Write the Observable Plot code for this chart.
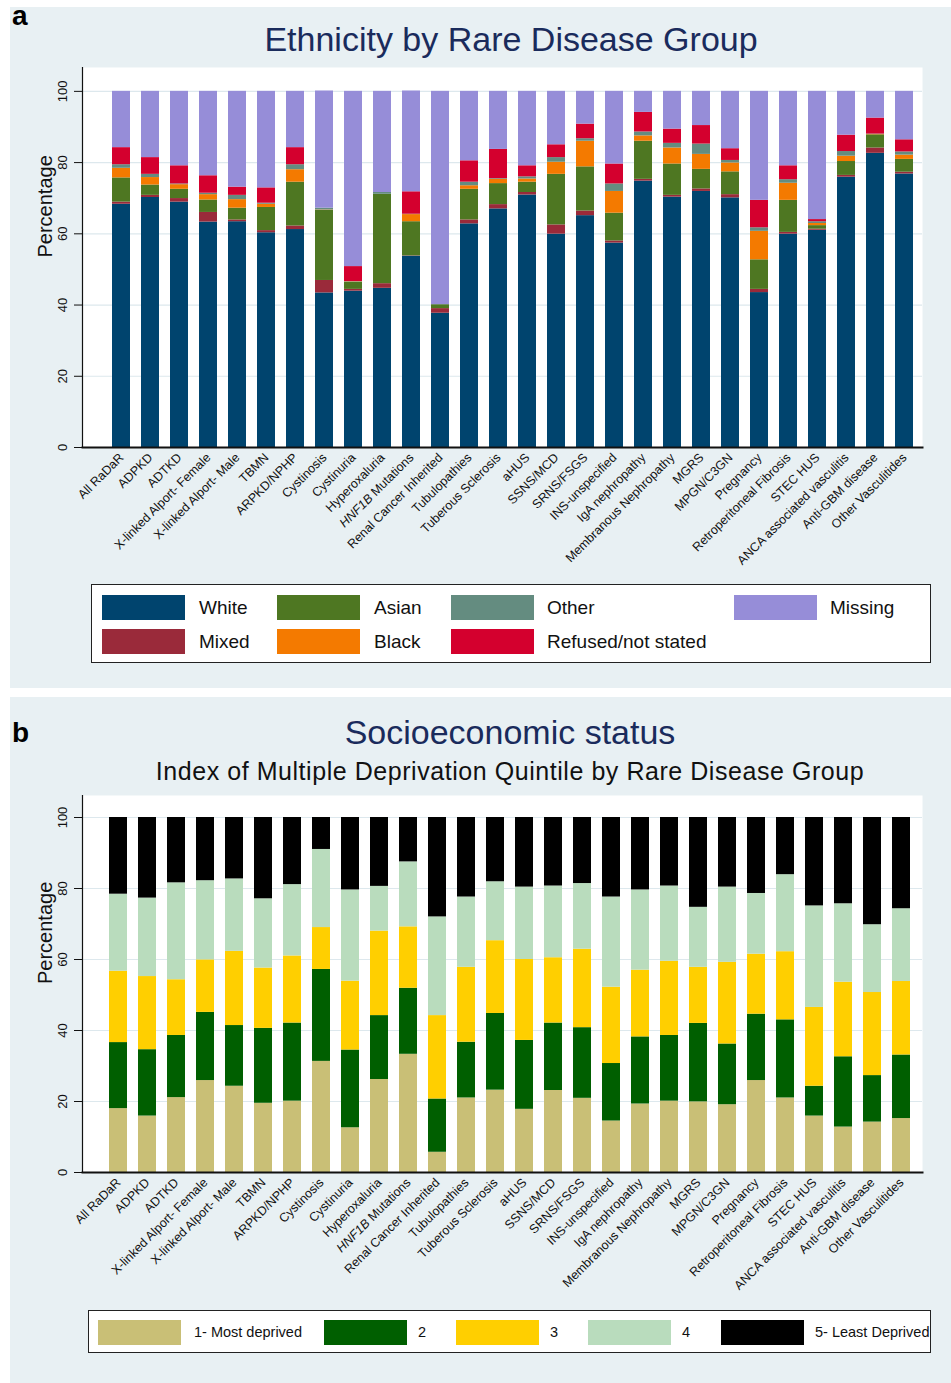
<!DOCTYPE html>
<html>
<head>
<meta charset="utf-8">
<script src="https://cdn.jsdelivr.net/npm/d3@7"></script>
<script src="https://cdn.jsdelivr.net/npm/@observablehq/plot@0.6"></script>
<style>
  html, body { margin: 0; padding: 0; background: #ffffff; }
  body { width: 951px; height: 1383px; position: relative; overflow: hidden; font-family: "Liberation Sans", Arial, sans-serif; }
  .panel { position: absolute; background: #e8f0f3; }
  .abs { position: absolute; white-space: nowrap; }
  .letter { font-weight: bold; font-size: 28px; color: #000; }
  .title { font-size: 34px; color: #1a2b5c; transform: translateX(-50%); }
  .subtitle { font-size: 25px; letter-spacing: 0.55px; color: #111; transform: translateX(-50%); }
  .legend { position: absolute; background: #fff; border: 1.5px solid #222; box-sizing: border-box; }
  .sw { position: absolute; }
  .lt { position: absolute; color: #111; white-space: nowrap; }
  .plotwrap { position: absolute; left: 0; }
</style>
</head>
<body>
<div class="panel" style="left:10px;top:7px;width:941px;height:681px;"></div>
<div class="panel" style="left:10px;top:697px;width:941px;height:686px;"></div>

<div class="abs letter" style="left:12px;top:0px;">a</div>
<div class="abs title" style="left:511px;top:20px;">Ethnicity by Rare Disease Group</div>
<div id="plotA" class="plotwrap" style="top:67px;"></div>
<div id="legendA" class="legend" style="left:91px;top:584px;width:840px;height:79px;"></div>

<div class="abs letter" style="left:12px;top:717px;">b</div>
<div class="abs title" style="left:510px;top:713px;">Socioeconomic status</div>
<div class="abs subtitle" style="left:510px;top:757px;">Index of Multiple Deprivation Quintile by Rare Disease Group</div>
<div id="plotB" class="plotwrap" style="top:795px;"></div>
<div id="legendB" class="legend" style="left:88px;top:1310px;width:843px;height:43px;"></div>

<script>
// ---------- categories ----------
const categories = ["All RaDaR","ADPKD","ADTKD","X-linked Alport- Female","X-linked Alport- Male","TBMN","ARPKD/NPHP","Cystinosis","Cystinuria","Hyperoxaluria","HNF1B Mutations","Renal Cancer Inherited","Tubulopathies","Tuberous Sclerosis","aHUS","SSNS/MCD","SRNS/FSGS","INS-unspecified","IgA nephropathy","Membranous Nephropathy","MGRS","MPGN/C3GN","Pregnancy","Retroperitoneal Fibrosis","STEC HUS","ANCA associated vasculitis","Anti-GBM disease","Other Vasculitides"];

// ---------- panel a: ethnicity (%) ----------
const ethnicGroups = ["White","Mixed","Asian","Black","Other","Refused/not stated","Missing"];
const white   = [68.3,70.2,68.9,63.3,63.4,60.3,61.2,43.4,43.9,44.7,53.7,37.7,62.8,67.0,70.9,59.9,65.1,57.4,74.8,70.3,71.9,70.1,43.5,59.9,61.0,75.9,82.6,76.8];
const mixed   = [0.6,0.6,1.0,2.7,0.5,0.6,1.0,3.5,0.5,1.3,0.1,1.3,1.1,1.2,0.7,2.6,1.3,0.6,0.5,0.5,0.7,0.9,0.9,0.5,0.3,0.5,1.5,0.5];
const asian   = [6.8,2.9,2.6,3.5,3.3,6.5,12.3,19.7,2.0,25.1,9.6,1.1,8.6,5.9,2.9,14.2,12.4,7.8,10.7,8.8,5.5,6.4,8.3,9.0,1.0,3.9,3.7,3.6];
const black   = [2.7,2.1,1.3,1.5,2.4,0.9,3.5,0.1,0.1,0.0,2.0,0.0,1.0,1.2,0.9,3.4,7.2,6.1,1.5,4.5,4.2,2.5,8.0,4.8,0.6,1.5,0.1,1.2];
const other   = [1.0,0.9,0.2,0.4,1.2,0.3,1.4,0.5,0.1,0.5,0.1,0.0,1.0,0.2,0.6,1.3,0.7,2.1,1.1,1.3,2.9,0.7,1.0,1.0,0.5,1.3,0.1,0.9];
const refused = [4.8,4.7,5.1,4.9,2.3,4.3,4.8,0.0,4.2,0.0,6.3,0.0,6.0,8.2,3.1,3.6,4.1,5.6,5.5,4.0,5.2,3.3,7.7,3.9,0.6,4.6,4.5,3.4];
const missing = [15.8,18.6,20.9,23.7,26.9,27.1,15.8,32.9,49.2,28.4,28.3,59.9,19.5,16.3,20.9,15.0,9.2,20.4,5.9,10.6,9.6,16.1,30.6,20.9,36.0,12.3,7.5,13.6];
const ethnicColors = ["#00446e","#9a2a3a","#4e7722","#f47a00","#648c80","#d4002e","#968dd8"];

// ---------- panel b: IMD quintile (%) ----------
const quintiles = ["1- Most deprived","2","3","4","5- Least Deprived"];
const q1 = [18.0,15.9,21.1,25.9,24.3,19.5,20.1,31.3,12.6,26.2,33.3,5.7,21.0,23.2,17.8,23.1,20.9,14.5,19.3,20.1,19.9,19.1,25.9,21.0,15.9,12.8,14.2,15.2];
const q2 = [18.6,18.7,17.5,19.2,17.1,21.1,22.0,25.9,21.9,18.0,18.6,15.0,15.7,21.6,19.4,19.0,19.9,16.2,18.9,18.5,22.1,17.1,18.7,22.0,8.4,19.8,13.1,17.9];
const q3 = [20.1,20.6,15.7,14.8,20.9,17.0,18.9,11.8,19.4,23.8,17.3,23.5,21.1,20.5,22.8,18.4,22.1,21.5,18.8,20.9,15.8,23.0,16.9,19.2,22.2,21.0,23.4,20.7];
const q4 = [21.7,22.1,27.3,22.3,20.4,19.5,20.1,22.0,25.7,12.6,18.3,27.8,19.8,16.6,20.4,20.2,18.5,25.4,22.6,21.2,16.9,21.2,17.1,21.7,28.6,22.1,19.1,20.5];
const q5 = [21.6,22.7,18.4,17.8,17.3,22.9,18.9,9.0,20.4,19.4,12.5,28.0,22.4,18.1,19.6,19.3,18.6,22.4,20.4,19.3,25.3,19.6,21.4,16.1,24.9,24.3,30.2,25.7];
const quintileColors = ["#c9bf76","#005f00","#ffcf00","#b9dcbd","#000000"];

const yTicks = [0,20,40,60,80,100];

function longTable(groups, series) {
  const rows = [];
  groups.forEach((g, gi) => {
    categories.forEach((c, ci) => rows.push({cat: c, group: g, value: series[gi][ci]}));
  });
  return rows;
}

function makeChart({rows, groups, colors, height, plotH, yMax, xRange}) {
  const chart = Plot.plot({
    width: 951,
    height: height,
    marginLeft: 82,
    marginRight: 29,
    marginTop: 0,
    marginBottom: height - plotH,
    style: {fontFamily: "'Liberation Sans', Arial, sans-serif", background: "transparent", color: "#111", overflow: "visible"},
    x: {domain: categories, range: xRange, paddingInner: 0.38, paddingOuter: 0.19, label: null},
    y: {domain: [0, yMax], label: null},
    color: {domain: groups, range: colors},
    marks: [
      Plot.frame({fill: "white", stroke: null}),
      Plot.gridY(yTicks.slice(1), {stroke: "#dde8ed", strokeOpacity: 1, strokeWidth: 1.2}),
      Plot.barY(rows, {x: "cat", y: "value", fill: "group", order: groups, inset: 0}),
      Plot.axisY(yTicks, {tickSize: 8, tickPadding: 8, tickRotate: -90, fontSize: 13, label: null, stroke: "#111"}),
      Plot.axisX({tickSize: 0, tickPadding: 8, tickRotate: -45, fontSize: 12.5, label: null}),
      Plot.frame({anchor: "left", stroke: "#111", strokeWidth: 1.2}),
      Plot.frame({anchor: "bottom", stroke: "#111", strokeWidth: 2}),
      Plot.text(["Percentage"], {frameAnchor: "left", dx: -37, rotate: -90, fontSize: 20, fill: "#111"})
    ]
  });
  // italicise HNF1B in tick label
  chart.querySelectorAll("text").forEach(t => {
    if (t.textContent === "HNF1B Mutations") {
      const ns = "http://www.w3.org/2000/svg";
      while (t.firstChild) t.removeChild(t.firstChild);
      const it = document.createElementNS(ns, "tspan");
      it.setAttribute("font-style", "italic");
      it.textContent = "HNF1B";
      t.appendChild(it);
      t.appendChild(document.createTextNode(" Mutations"));
    }
  });
  return chart;
}

const ethnicSeries = [white, mixed, asian, black, other, refused, missing];
document.getElementById("plotA").appendChild(makeChart({
  rows: longTable(ethnicGroups, ethnicSeries), groups: ethnicGroups, colors: ethnicColors,
  height: 510, plotH: 380, yMax: 106.7, xRange: [105, 919]
}));

const quintileSeries = [q1, q2, q3, q4, q5];
document.getElementById("plotB").appendChild(makeChart({
  rows: longTable(quintiles, quintileSeries), groups: quintiles, colors: quintileColors,
  height: 512, plotH: 377, yMax: 106.2, xRange: [102, 917.4]
}));

// ---------- legends ----------
function addItem(container, boxLeft, boxTop, x, y, w, h, color, label, tx, fontSize) {
  const s = document.createElement("div");
  s.className = "sw";
  s.style.cssText = `left:${x - boxLeft}px;top:${y - boxTop}px;width:${w}px;height:${h}px;background:${color};`;
  container.appendChild(s);
  const t = document.createElement("div");
  t.className = "lt";
  t.style.cssText = `left:${tx - boxLeft}px;top:${y - boxTop}px;height:${h}px;line-height:${h}px;font-size:${fontSize}px;`;
  t.textContent = label;
  container.appendChild(t);
}
const legA = document.getElementById("legendA");
const legAOrder = ["White","Asian","Other","Missing","Mixed","Black","Refused/not stated"];
const colX = [101, 276, 450, 733];
const textX = [198, 373, 546, 829];
legAOrder.forEach((g, i) => {
  const r = Math.floor(i / 4), c = i % 4;
  addItem(legA, 91, 584, colX[c], r === 0 ? 594 : 628, 83, 25, ethnicColors[ethnicGroups.indexOf(g)], g, textX[c], 19);
});
const legB = document.getElementById("legendB");
const bX = [97, 323, 455, 587, 720];
const bT = [193, 417, 549, 681, 814];
quintiles.forEach((g, i) => {
  addItem(legB, 88, 1310, bX[i], 1319, 83, 25, quintileColors[i], g, bT[i], 14.5);
});
</script>
</body>
</html>
